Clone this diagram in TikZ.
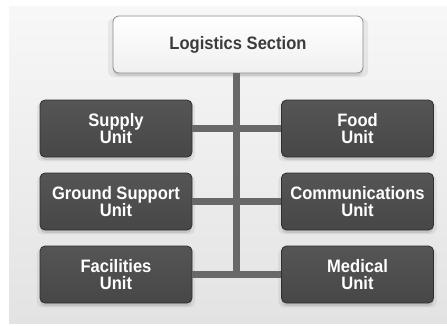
\documentclass[tikz,border=0pt]{standalone}
\usepackage{fontspec}
\setmainfont{Liberation Sans}[FakeStretch=0.92]
\usetikzlibrary{shadows}
\definecolor{unitfill}{HTML}{555555}
\definecolor{unitfillb}{HTML}{474747}
\definecolor{unitborder}{HTML}{2E2E2E}
\definecolor{linkgray}{HTML}{686868}
\definecolor{toptext}{HTML}{3C3C3C}
\begin{document}
\begin{tikzpicture}[x=1pt,y=-1pt,
  softshadow/.style={
    general shadow={fill=black, opacity=0.06, shadow scale=1.04, shadow yshift=-3pt},
    general shadow={fill=black, opacity=0.10, shadow xshift=0pt, shadow yshift=-3pt}},
  unitbox/.style={draw=unitborder, line width=0.8pt, rounded corners=5pt,
    top color=unitfill, bottom color=unitfillb,
    minimum width=152pt, minimum height=57pt, inner sep=0pt,
    text=white, align=center,
    font=\fontsize{18}{16.3}\selectfont\bfseries, softshadow},
  headbox/.style={draw=black!45, line width=0.8pt, rounded corners=6pt,
    top color=white, bottom color=black!6,
    minimum width=250pt, minimum height=57pt, inner sep=0pt,
    text=toptext, align=center,
    font=\fontsize{18}{16.3}\selectfont\bfseries, softshadow},
  link/.style={draw=linkgray, line width=7pt}]
\useasboundingbox (0,0) rectangle (447,325);
\fill[white] (0,0) rectangle (447,325);
\shade[top color=black!3, bottom color=black!11] (9,6) rectangle (447,323);
% nodes
\node[headbox] (top) at (238,44.5) {Logistics Section};
\coordinate (spinetop) at (236,73);
\coordinate (spinebot) at (236,274.5);
\node[unitbox] (supply) at (116,128.5) {Supply\\Unit};
\node[unitbox] (ground) at (116,201.5) {Ground Support\\Unit};
\node[unitbox] (facil) at (116,274.5) {Facilities\\Unit};
\node[unitbox] (food) at (357.5,128.5) {Food\\Unit};
\node[unitbox] (comm) at (357.5,201.5) {Communications\\Unit};
\node[unitbox] (med) at (357.5,274.5) {Medical\\Unit};
% connectors
\path[link] (spinetop) -- (spinebot);
\path[link] (supply.east) -- (food.west);
\path[link] (ground.east) -- (comm.west);
\path[link] (facil.east) -- (med.west);
\end{tikzpicture}
\end{document}
